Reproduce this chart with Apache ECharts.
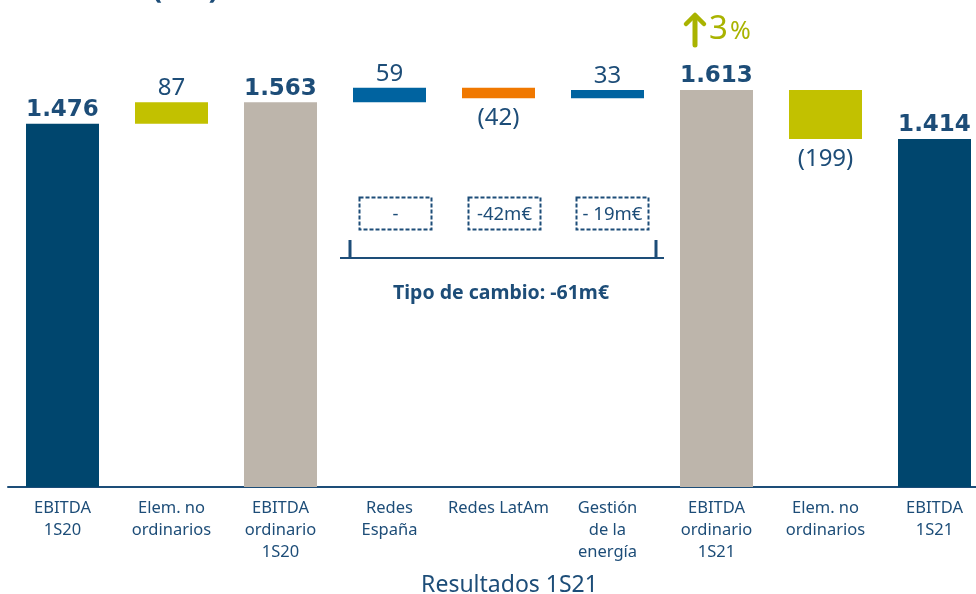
<!DOCTYPE html>
<html>
<head>
<meta charset="utf-8">
<script src="https://cdn.jsdelivr.net/npm/echarts@6/dist/echarts.min.js"></script>
<style>
  html, body { margin: 0; padding: 0; background: #fff; }
  #chart { width: 976px; height: 594px; }
</style>
</head>
<body>
<div id="chart"></div>
<script>
const categories = ['EBITDA\n1S20', 'Elem. no\nordinarios', 'EBITDA\nordinario\n1S20', 'Redes\nEspaña', 'Redes LatAm', 'Gestión\nde la\nenergía', 'EBITDA\nordinario\n1S21', 'Elem. no\nordinarios', 'EBITDA\n1S21']
const values = [1476, 87, 1563, 59, -42, 33, 1613, -199, 1414]
const isTotal = [true, false, true, false, false, false, true, false, true]
const barColors = ['#00466e', '#c2c100', '#bdb5ab', '#0063a0', '#f07800', '#0063a0', '#bdb5ab', '#c2c100', '#00466e']
const fxLabels = ['-', '-42m€', '- 19m€']

const textColor = '#1d4d78'
const font = '"Noto Sans", "Open Sans", sans-serif'

// running base for the floating bars
const baseData = []
const barData = []
let running = 0
values.forEach((v, i) => {
  if (isTotal[i]) {
    baseData.push(0)
    barData.push(v)
    running = v
  } else {
    baseData.push(v >= 0 ? running : running + v)
    barData.push(Math.abs(v))
    running += v
  }
})

function fmt(v, total) {
  if (total) return (v / 1000).toFixed(3)
  return v < 0 ? '(' + Math.abs(v) + ')' : String(v)
}

const chart = echarts.init(document.getElementById('chart'))

chart.setOption({
  animation: false,
  textStyle: { fontFamily: font },
  grid: { left: 8, top: 44, width: 981, height: 443, outerBoundsMode: 'none', containLabel: false },
  xAxis: {
    type: 'category',
    data: categories,
    name: 'Resultados 1S21',
    nameLocation: 'middle',
    nameGap: 87,
    nameTextStyle: { color: textColor, fontSize: 23, fontFamily: font, padding: [0, 0, 0, 22] },
    axisLine: { lineStyle: { color: '#1d4d78', width: 2 } },
    axisTick: { show: false },
    axisLabel: { color: textColor, fontSize: 16.5, lineHeight: 22, margin: 10, interval: 0, fontFamily: font }
  },
  yAxis: {
    type: 'value',
    min: 0,
    max: 1800,
    show: false
  },
  series: [
    {
      type: 'bar',
      stack: 'wf',
      data: baseData,
      itemStyle: { color: 'transparent' },
      silent: true
    },
    {
      type: 'bar',
      stack: 'wf',
      barWidth: 73,
      data: barData.map((v, i) => ({
        value: v,
        itemStyle: { color: barColors[i] },
        label: {
          show: true,
          position: values[i] < 0 ? 'bottom' : 'top',
          distance: values[i] < 0 ? 8 : 2,
          formatter: fmt(values[i], isTotal[i]),
          color: textColor,
          fontSize: isTotal[i] ? 23 : 24,
          fontWeight: isTotal[i] ? 'bold' : 'normal',
          fontFamily: isTotal[i] ? '"DejaVu Sans", sans-serif' : font
        }
      }))
    }
  ],
  graphic: [
    {
      type: 'text', left: 152, top: -26,
      style: { text: '(m€)', fontSize: 30, fontWeight: 'bold', fill: textColor, fontFamily: font }
    },
    {
      type: 'polyline',
      shape: { points: [[686, 24], [695, 15], [704, 24]] },
      style: { stroke: '#a9b300', lineWidth: 4.5, fill: 'none', lineCap: 'round', lineJoin: 'round' }
    },
    {
      type: 'line',
      shape: { x1: 695, y1: 16, x2: 695, y2: 45 },
      style: { stroke: '#a9b300', lineWidth: 5, lineCap: 'round' }
    },
    {
      type: 'text', x: 709, y: 30,
      style: {
        text: '{a|3}{b|%}',
        verticalAlign: 'middle',
        rich: {
          a: { fontSize: 33, fill: '#a9b300', fontFamily: font },
          b: { fontSize: 25, fill: '#a9b300', fontFamily: font, padding: [4, 0, 0, 2] }
        }
      }
    },
    ...fxLabels.map((t, i) => ({
      type: 'group',
      left: [357, 466, 574][i],
      top: 195,
      children: [
        {
          type: 'rect',
          shape: { x: 0, y: 0, width: 72, height: 32 },
          style: { fill: 'none', stroke: textColor, lineWidth: 2, lineDash: [4, 2] }
        },
        {
          type: 'text', x: 36, y: 17,
          style: { text: t, fontSize: 18.5, fill: textColor, align: 'center', verticalAlign: 'middle', fontFamily: font }
        }
      ]
    })),
    {
      type: 'line',
      shape: { x1: 340, y1: 258, x2: 664, y2: 258 },
      style: { stroke: textColor, lineWidth: 2 }
    },
    {
      type: 'line',
      shape: { x1: 350, y1: 240, x2: 350, y2: 259 },
      style: { stroke: textColor, lineWidth: 3 }
    },
    {
      type: 'line',
      shape: { x1: 656, y1: 240, x2: 656, y2: 259 },
      style: { stroke: textColor, lineWidth: 3 }
    },
    {
      type: 'text', x: 501, y: 293,
      style: { text: 'Tipo de cambio: -61m€', fontSize: 19.5, fontWeight: 'bold', fill: textColor, align: 'center', verticalAlign: 'middle', fontFamily: font }
    }
  ]
})
</script>
</body>
</html>
